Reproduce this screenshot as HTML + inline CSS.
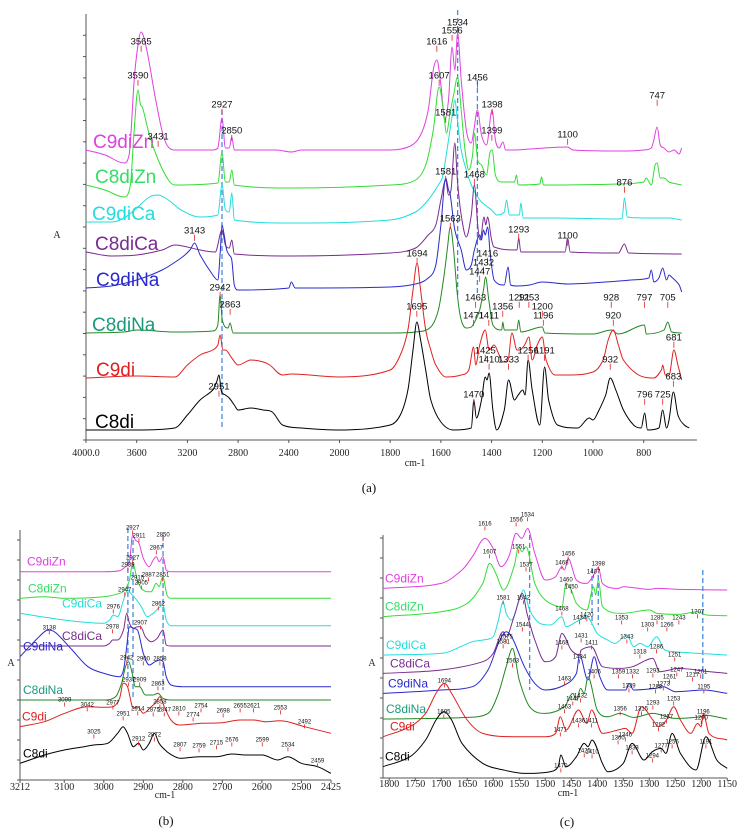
<!DOCTYPE html>
<html><head><meta charset="utf-8">
<style>
html,body{margin:0;padding:0;background:#fff;}
svg{display:block;font-family:"Liberation Sans",Arial,sans-serif;}
.ax{stroke:#555;stroke-width:1;fill:none}
.tk{font-family:"Liberation Serif",serif;font-size:10px;fill:#222}
</style></head>
<body>
<svg id="fig" width="740" height="833" viewBox="0 0 740 833" xmlns="http://www.w3.org/2000/svg"></svg>
<script>
// ---------- Series metadata ----------
const seriesNames = ["C9diZn","C8diZn","C9diCa","C8diCa","C9diNa","C8diNa","C9di","C8di"];
const lineColors = ["#e040e0","#33dd33","#22dddd","#7a2a90","#2a2acc","#228822","#e02020","#000000"];
const labelColors = ["#e040e0","#33dd66","#22dddd","#7a2a90","#2a2acc","#1a9a7a","#e02020","#000000"];

// ---------- Panel (a) data: [wavenumber, absorbance a.u.] ----------
const a_C9diZn = [[4000,290],[3850,285],[3700,277],[3660,285],[3620,360],[3590,395],[3565,408],[3520,390],[3450,340],[3380,300],[3300,290],[3000,290],[2960,292],[2927,322],[2900,292],[2870,292],[2850,303],[2830,290],[2500,290],[2380,288],[2300,290],[1800,290],[1720,294],[1680,305],[1650,330],[1630,370],[1616,380],[1600,355],[1585,320],[1570,340],[1556,393],[1545,370],[1534,407],[1520,360],[1500,310],[1480,297],[1470,310],[1456,330],[1440,305],[1420,295],[1398,330],[1385,300],[1370,292],[1355,298],[1345,290],[1300,290],[1250,291],[1100,293],[1080,290],[900,289],[800,290],[770,292],[760,300],[747,313],[735,295],[720,292],[700,288],[680,290],[660,286],[650,292]];
const a_C8diZn = [[4000,255],[3850,250],[3700,243],[3650,255],[3620,310],[3590,350],[3570,335],[3555,333],[3500,305],[3430,280],[3350,260],[3300,255],[2960,257],[2927,287],[2900,258],[2870,258],[2850,270],[2830,255],[2380,252],[1800,255],[1700,260],[1660,275],[1630,310],[1607,353],[1590,330],[1578,307],[1565,325],[1550,345],[1534,363],[1520,330],[1505,290],[1490,270],[1475,285],[1468,307],[1455,280],[1440,275],[1420,265],[1407,287],[1398,290],[1385,265],[1360,258],[1310,258],[1302,265],[1295,255],[1210,256],[1203,263],[1195,255],[900,256],[800,258],[790,262],[770,255],[755,275],[747,277],[735,262],[720,262],[700,258],[650,255]];
const a_C9diCa = [[4000,218],[3800,218],[3700,222],[3600,232],[3500,243],[3431,245],[3350,240],[3250,230],[3100,223],[2960,225],[2927,255],[2900,230],[2870,228],[2850,247],[2830,220],[2380,217],[1800,220],[1700,228],[1650,240],[1610,255],[1595,262],[1585,275],[1570,300],[1555,325],[1545,340],[1535,320],[1520,290],[1500,270],[1480,255],[1460,245],[1440,238],[1400,230],[1380,225],[1350,228],[1341,240],[1330,225],[1290,225],[1285,237],[1275,222],[1150,222],[900,221],[885,222],[876,242],[865,223],[800,222],[700,222],[650,220]];
const a_C8diCa = [[4000,188],[3800,184],[3600,185],[3400,190],[3300,195],[3100,190],[2980,188],[2927,210],[2900,195],[2870,192],[2850,200],[2830,186],[2380,184],[1800,187],[1700,192],[1650,205],[1620,215],[1600,240],[1581,260],[1570,245],[1560,250],[1545,297],[1535,260],[1520,225],[1500,203],[1480,225],[1468,255],[1455,215],[1445,200],[1430,223],[1423,215],[1416,223],[1400,200],[1390,193],[1300,190],[1293,202],[1285,188],[1110,188],[1100,202],[1090,188],[900,187],[876,196],[860,187],[650,186]];
const a_C9diNa = [[4000,152],[3800,154],[3600,160],[3400,170],[3250,182],[3180,190],[3143,197],[3100,185],[3000,165],[2960,160],[2940,190],[2927,215],[2910,205],[2890,190],[2870,185],[2850,180],[2830,155],[2800,150],[2400,152],[2380,158],[2350,152],[1800,153],[1700,156],[1650,162],[1620,175],[1600,215],[1581,262],[1570,250],[1563,245],[1545,210],[1520,190],[1500,170],[1480,175],[1468,190],[1447,205],[1440,200],[1432,210],[1425,205],[1416,213],[1405,185],[1390,160],[1350,155],[1335,173],[1325,155],[1300,154],[1250,155],[1200,158],[1100,156],[950,158],[850,160],[780,162],[770,170],[760,158],[740,162],[725,172],[710,160],[700,165],[690,163],[660,155],[650,148]];
const a_C8diNa = [[4000,107],[3700,108],[3600,110],[3300,108],[3000,109],[2960,115],[2942,145],[2925,120],[2880,112],[2863,117],[2840,107],[1800,107],[1700,108],[1640,113],[1610,130],[1590,160],[1575,190],[1563,213],[1550,190],[1535,145],[1520,120],[1500,112],[1480,113],[1463,120],[1447,130],[1432,150],[1424,163],[1411,140],[1395,115],[1360,110],[1356,118],[1350,110],[1300,110],[1293,120],[1285,108],[1200,113],[1190,107],[1000,106],[928,110],[900,106],[797,115],[790,106],[720,110],[705,118],[690,108],[650,107]];
const a_C9di = [[4000,62],[3600,64],[3300,63],[3200,75],[3100,85],[3000,90],[2960,95],[2942,105],[2920,90],[2900,90],[2850,82],[2800,75],[2700,80],[2600,78],[2550,75],[2450,65],[2380,66],[2000,63],[1800,70],[1760,85],[1730,110],[1710,150],[1694,177],[1680,150],[1660,110],[1640,90],[1620,75],[1580,63],[1520,65],[1490,70],[1471,93],[1463,75],[1447,95],[1425,110],[1410,90],[1390,95],[1370,85],[1356,78],[1335,80],[1320,107],[1300,90],[1290,90],[1270,95],[1253,103],[1240,80],[1220,95],[1200,103],[1185,80],[1150,65],[1100,65],[1000,68],[960,80],[940,100],[920,110],[900,95],[880,80],[820,65],[760,62],[730,70],[725,75],[715,65],[700,65],[681,90],[665,75],[650,60]];
const a_C8di = [[4000,10],[3600,10],[3300,12],[3200,25],[3100,40],[3000,50],[2970,58],[2951,65],[2930,48],[2900,45],[2870,42],[2830,35],[2800,30],[2700,32],[2600,30],[2530,28],[2450,15],[2300,12],[2000,10],[1800,15],[1760,25],[1730,50],[1710,90],[1695,118],[1680,100],[1660,70],[1640,40],[1600,18],[1550,10],[1480,12],[1470,40],[1460,22],[1440,40],[1425,63],[1418,60],[1410,67],[1395,30],[1380,10],[1350,30],[1333,60],[1310,40],[1295,45],[1277,50],[1268,45],[1256,80],[1240,50],[1210,15],[1191,73],[1175,40],[1140,15],[1060,12],[1015,22],[1000,20],[980,28],[950,45],[932,62],[910,50],[880,30],[840,15],[810,12],[796,27],[785,10],[740,12],[725,30],[710,12],[700,20],[683,48],[665,25],[640,15],[620,12]];
const a_ticks = [4000,3600,3200,2800,2400,2000,1800,1600,1400,1200,1000,800];
const a_peaks = [[3565,398],[3590,364],[2927,335],[2850,309],[3431,303],[3143,209],[2942,152],[2863,135],[2951,53],[1534,417],[1556,409],[1616,398],[1607,364],[1456,362],[1398,335],[1581,327],[1399,309],[1100,305],[747,344],[1581,268],[1468,265],[876,257],[1563,221],[1293,210],[1100,204],[1694,186],[1416,186],[1432,177],[1447,168],[1463,142],[1291,142],[1253,142],[928,142],[797,142],[705,142],[1695,133],[1356,133],[1200,133],[1471,124],[1411,124],[1196,124],[920,124],[681,102],[1425,89],[1256,89],[1191,89],[1410,80],[1333,80],[932,80],[683,63],[1470,45],[796,45],[725,45]];

// ---------- Panel (b) data ----------
const b_C9diZn = [[3212,625],[3000,625],[2960,628],[2945,640],[2935,655],[2927,735],[2920,720],[2911,710],[2900,665],[2885,640],[2875,660],[2867,670],[2860,655],[2850,670],[2842,630],[2830,625],[2425,625]];
const b_C8diZn = [[3212,545],[3150,550],[3100,545],[3000,550],[2960,560],[2947,570],[2935,600],[2927,650],[2915,600],[2905,575],[2890,565],[2880,565],[2867,590],[2860,580],[2851,610],[2840,555],[2830,545],[2425,545]];
const b_C9diCa = [[3212,500],[3100,480],[3000,470],[2985,480],[2976,495],[2965,490],[2950,540],[2940,570],[2932,560],[2920,545],[2905,520],[2890,490],[2875,500],[2862,515],[2850,525],[2842,480],[2830,463],[2425,463]];
const b_C8diCa = [[3212,402],[3000,402],[2985,410],[2978,420],[2965,420],[2950,450],[2942,500],[2935,470],[2925,455],[2915,460],[2907,460],[2895,430],[2880,415],[2865,425],[2850,450],[2842,405],[2830,402],[2425,402]];
const b_C9diNa = [[3212,370],[3180,410],[3150,445],[3138,450],[3120,440],[3080,390],[3040,340],[3000,320],[2960,310],[2950,330],[2942,400],[2935,460],[2925,455],[2915,450],[2900,380],[2885,345],[2870,355],[2858,360],[2850,355],[2842,310],[2830,285],[2800,280],[2425,280]];
const b_C8diNa = [[3212,240],[3000,240],[2970,250],[2955,290],[2945,340],[2937,355],[2930,330],[2920,280],[2909,280],[2895,255],[2875,255],[2863,260],[2850,245],[2830,240],[2425,240]];
const b_C9di = [[3212,160],[3150,175],[3099,200],[3042,220],[3000,218],[2977,220],[2960,245],[2951,290],[2940,280],[2925,215],[2914,220],[2900,200],[2880,220],[2870,230],[2858,250],[2847,220],[2830,180],[2810,165],[2774,168],[2754,170],[2700,172],[2655,180],[2621,180],[2590,175],[2553,178],[2492,160],[2425,140]];
const b_C8di = [[3212,50],[3150,75],[3100,90],[3050,100],[3025,105],[2990,110],[2965,140],[2951,160],[2940,140],[2925,100],[2912,110],[2900,90],[2885,110],[2872,140],[2860,110],[2840,85],[2820,70],[2807,65],[2759,70],[2715,70],[2676,78],[2640,75],[2599,75],[2560,60],[2534,70],[2500,50],[2459,40],[2425,20]];
const b_ticks = [3212,3100,3000,2900,2800,2700,2600,2500,2425];
const b_peaks = [[2927,756],[2911,732],[2850,735],[2867,696],[2939,645],[2927,666],[2887,615],[2851,615],[2915,606],[2905,591],[2947,570],[2976,519],[2862,528],[3138,456],[2978,459],[2907,471],[2942,366],[2900,363],[2858,363],[2937,300],[2909,300],[2863,288],[3099,240],[3042,225],[2977,231],[2914,213],[2875,210],[2858,234],[2847,210],[2810,213],[2774,195],[2754,222],[2698,207],[2655,222],[2621,222],[2553,216],[2492,174],[2951,198],[3025,144],[2912,123],[2872,135],[2807,105],[2759,102],[2715,111],[2676,120],[2599,120],[2534,105],[2459,57]];

// ---------- Panel (c) data ----------
const c_C9diZn = [[1812,568],[1700,583],[1660,623],[1640,663],[1616,718],[1600,688],[1585,633],[1570,663],[1556,733],[1545,718],[1534,748],[1520,673],[1500,593],[1480,603],[1468,633],[1463,623],[1456,658],[1440,593],[1420,583],[1407,608],[1398,631],[1390,583],[1360,568],[1350,573],[1300,565],[1285,568],[1243,565],[1150,563]];
const c_C8diZn = [[1812,483],[1700,498],[1650,523],[1620,583],[1607,643],[1595,613],[1580,563],[1560,633],[1551,693],[1545,678],[1537,693],[1520,583],[1500,533],[1468,513],[1460,583],[1450,563],[1440,523],[1420,503],[1407,573],[1403,548],[1398,593],[1390,513],[1353,493],[1300,503],[1285,493],[1243,490],[1207,498],[1190,488],[1150,486]];
const c_C9diCa = [[1812,368],[1700,373],[1640,408],[1620,413],[1600,423],[1590,473],[1581,528],[1575,493],[1565,473],[1550,533],[1542,563],[1530,503],[1510,463],[1490,458],[1468,483],[1460,453],[1440,468],[1434,473],[1420,483],[1400,433],[1380,413],[1366,403],[1343,428],[1330,393],[1318,403],[1303,393],[1286,423],[1270,383],[1251,378],[1150,368]];
const c_C8diCa = [[1812,313],[1700,323],[1620,348],[1600,373],[1581,438],[1575,423],[1560,483],[1544,553],[1535,493],[1520,413],[1500,348],[1480,363],[1468,433],[1450,383],[1434,368],[1431,383],[1411,393],[1390,333],[1359,328],[1332,333],[1293,358],[1280,318],[1261,323],[1247,328],[1217,325],[1201,321],[1150,313]];
const c_C9diNa = [[1812,253],[1700,263],[1640,273],[1610,323],[1590,403],[1575,438],[1563,418],[1540,333],[1520,283],[1500,263],[1463,278],[1440,313],[1434,368],[1418,293],[1406,363],[1395,303],[1380,263],[1345,263],[1339,283],[1330,263],[1288,268],[1273,273],[1250,258],[1195,263],[1150,253]];
const c_C8diNa = [[1812,176],[1650,181],[1610,193],[1590,253],[1575,333],[1563,388],[1550,293],[1530,213],[1500,193],[1463,213],[1447,253],[1440,233],[1432,268],[1425,253],[1418,303],[1400,203],[1380,183],[1356,193],[1330,181],[1293,193],[1250,178],[1200,183],[1196,188],[1150,176]];
const c_C9di = [[1812,123],[1760,153],[1730,193],[1710,253],[1694,283],[1680,253],[1650,173],[1620,133],[1560,123],[1500,123],[1480,133],[1471,183],[1460,143],[1436,203],[1420,163],[1411,203],[1390,133],[1360,143],[1346,148],[1333,133],[1315,213],[1293,173],[1282,153],[1267,173],[1253,213],[1240,173],[1220,133],[1207,163],[1200,153],[1196,193],[1185,133],[1150,113]];
const c_C8di = [[1812,33],[1760,63],[1730,113],[1710,173],[1695,198],[1680,173],[1660,103],[1620,43],[1580,23],[1540,13],[1490,18],[1475,33],[1470,68],[1460,33],[1440,63],[1425,103],[1418,93],[1410,113],[1390,43],[1380,18],[1350,43],[1333,103],[1310,53],[1294,78],[1277,88],[1268,73],[1256,133],[1240,73],[1210,23],[1191,123],[1170,53],[1150,28]];
const c_ticks = [1800,1750,1700,1650,1600,1550,1500,1450,1400,1350,1300,1250,1200,1150];
const c_peaks = [[1616,761],[1556,773],[1534,788],[1607,677],[1551,692],[1468,644],[1456,671],[1537,638],[1407,617],[1398,641],[1542,539],[1460,593],[1450,572],[1581,539],[1468,506],[1353,479],[1285,479],[1243,479],[1207,497],[1544,458],[1434,479],[1420,488],[1266,458],[1303,458],[1575,422],[1581,407],[1468,404],[1431,425],[1411,404],[1343,422],[1318,377],[1286,392],[1251,368],[1434,362],[1563,350],[1463,296],[1406,317],[1359,317],[1332,317],[1293,320],[1261,302],[1247,323],[1217,308],[1201,317],[1339,275],[1288,272],[1273,281],[1195,272],[1694,290],[1447,236],[1432,245],[1463,212],[1356,206],[1315,206],[1293,224],[1253,236],[1196,197],[1695,197],[1436,170],[1411,170],[1267,182],[1282,158],[1200,179],[1471,143],[1360,119],[1346,128],[1256,107],[1191,107],[1425,80],[1410,77],[1333,89],[1294,65],[1277,95],[1470,35]];

// ---------- helpers ----------
const NS = "http://www.w3.org/2000/svg";
const svg = document.getElementById("fig");
function mk(tag, attrs, parent){
  const e = document.createElementNS(NS, tag);
  for (const k in attrs) e.setAttribute(k, attrs[k]);
  (parent||svg).appendChild(e);
  return e;
}
// monotone-in-x cubic smoothing (no loops)
function smoothPath(pts){
  const n = pts.length;
  const m = [];
  for (let i=0;i<n;i++){
    const a = pts[Math.max(0,i-1)], b = pts[Math.min(n-1,i+1)];
    let s = (b[0]-a[0]) !== 0 ? (b[1]-a[1])/(b[0]-a[0]) : 0;
    if (i>0 && i<n-1){
      const s1 = (pts[i][1]-pts[i-1][1])/((pts[i][0]-pts[i-1][0])||1e-6);
      const s2 = (pts[i+1][1]-pts[i][1])/((pts[i+1][0]-pts[i][0])||1e-6);
      if (s1*s2 <= 0) s = 0;
      else { const lim = 3*Math.min(Math.abs(s1),Math.abs(s2)); if (Math.abs(s)>lim) s = Math.sign(s)*lim; }
    }
    m.push(s);
  }
  let d = "M" + pts[0][0].toFixed(1) + "," + pts[0][1].toFixed(1);
  for (let i=0;i<n-1;i++){
    const p1 = pts[i], p2 = pts[i+1];
    const dx = (p2[0]-p1[0])/3;
    d += " C"+(p1[0]+dx).toFixed(1)+","+(p1[1]+m[i]*dx).toFixed(1)+" "+(p2[0]-dx).toFixed(1)+","+(p2[1]-m[i+1]*dx).toFixed(1)+" "+p2[0].toFixed(1)+","+p2[1].toFixed(1);
  }
  return d;
}

// ---------- axis functions ----------
function xA(w){ return w >= 2000 ? 86 + (4000-w)*0.12675 : 339.5 + (2000-w)*0.2535; }
function yA(v){ return 440 - v; }
function xB(w){ return 20 + (3212-w)*0.3952; }
function yB(v){ return 780 - v/3; }
function xC(w){ return 383 + (1812-w)*0.52; }
function yC(v){ return 777.7 - v/3; }

function drawPanel(cfg){
  const g = mk("g", {});
  
  
  const xa = mk("line", {x1:cfg.x0, y1:cfg.yb, x2:cfg.x1, y2:cfg.yb, class:"ax"}, g);
  
  
  const ya = mk("line", {x1:cfg.x0, y1:cfg.yt, x2:cfg.x0, y2:cfg.yb, class:"ax"}, g);
  
  
  for (let y = cfg.yb; y >= cfg.yt; y -= cfg.ystep){
    mk("line", {x1:cfg.x0-3, y1:y, x2:cfg.x0, y2:y, class:"ax"}, g);
  }
  cfg.ticks.forEach((t,i)=>{
    const x = cfg.xs(t);
    mk("line", {x1:x, y1:cfg.yb, x2:x, y2:cfg.yb+3, class:"ax"}, g);
    const lbl = (cfg.name==="panel-a" && i===0) ? "4000.0" : String(t);
    const tx = mk("text", {x:x, y:cfg.yb+cfg.tickDy, "text-anchor":"middle", class:"tk", "font-size":cfg.tickFs}, g);
    tx.textContent = lbl;
    
    
  });
  const xt = mk("text", {x:cfg.xtX, y:cfg.xtY, "text-anchor":"middle", class:"tk", "font-size":cfg.tickFs+1}, g);
  xt.textContent = "cm-1";
  
  
  const yt = mk("text", {x:cfg.ytX, y:cfg.ytY, "text-anchor":"middle", class:"tk", "font-size":cfg.tickFs+1}, g);
  yt.textContent = "A";
  
  
  cfg.dashes.forEach(dl=>{
    const l = mk("line", {x1:cfg.xs(dl[0]), x2:cfg.xs(dl[0]), y1:cfg.ys(dl[1]), y2:cfg.ys(dl[2]), stroke:"#4a8ad8", "stroke-width":1.3, "stroke-dasharray":"5,3"}, g);
    
    
  });
  cfg.series.forEach((data,i)=>{
    const pts = data.map(p=>[cfg.xs(p[0]), cfg.ys(p[1])]);
    const p = mk("path", {d:smoothPath(pts), fill:"none", stroke:lineColors[i], "stroke-width":1, "stroke-linejoin":"round"}, g);
    
    
    const lb = mk("text", {x:cfg.labX[i], y:cfg.ys(data[0][1]) - cfg.labDy, fill:labelColors[i], "font-size":cfg.labFs}, g);
    lb.textContent = seriesNames[i];
    
    
  });
  cfg.peaks.forEach(pk=>{
    const x = cfg.xs(pk[0]), y = cfg.ys(pk[1]);
    const ln = mk("line", {x1:x, y1:y+cfg.pkFs*0.4, x2:x, y2:y+cfg.pkFs*0.4+cfg.lead, stroke:"#e02020", "stroke-width":0.8}, g);
    
    
    const t = mk("text", {x:x, y:y, "text-anchor":"middle", "dominant-baseline":"middle", fill:"#111", "font-size":cfg.pkFs}, g);
    t.textContent = String(pk[0]);
    
    
  });
}

drawPanel({name:"panel-a", xs:xA, ys:yA, x0:86, x1:697, yt:14, yb:440, ystep:21.3,
  ticks:a_ticks, tickDy:16, tickFs:10, xtX:415, xtY:466, ytX:57, ytY:238,
  dashes:[[2927,330,10],[1534,430,145],[1456,360,145]],
  series:[a_C9diZn,a_C8diZn,a_C9diCa,a_C8diCa,a_C9diNa,a_C8diNa,a_C9di,a_C8di],
  labX:[93,95,92,95,96,92,96,95], labDy:2, labFs:19,
  peaks:a_peaks, pkFs:9.5, lead:6});

drawPanel({name:"panel-b", xs:xB, ys:yB, x0:20, x1:331, yt:530, yb:780, ystep:20,
  ticks:b_ticks, tickDy:10, tickFs:7, xtX:165, xtY:798, ytX:11, ytY:666,
  dashes:[[2939,756,300],[2926,720,240],[2850,735,270]],
  series:[b_C9diZn,b_C8diZn,b_C9diCa,b_C8diCa,b_C9diNa,b_C8diNa,b_C9di,b_C8di],
  labX:[27,28,62,62,23,23,22,23], labDy:6, labFs:12,
  peaks:b_peaks, pkFs:6, lead:4});

drawPanel({name:"panel-c", xs:xC, ys:yC, x0:383, x1:727, yt:535, yb:778, ystep:20,
  ticks:c_ticks, tickDy:9, tickFs:7, xtX:568, xtY:796, ytX:372, ytY:666,
  dashes:[[1530,728,263],[1410,629,458],[1398,608,458],[1197,623,293]],
  series:[c_C9diZn,c_C8diZn,c_C9diCa,c_C8diCa,c_C9diNa,c_C8diNa,c_C9di,c_C8di],
  labX:[385,385,386,390,388,386,390,385], labDy:6, labFs:12,
  peaks:c_peaks, pkFs:6, lead:4});

[["(a)",369,492],["(b)",166,825],["(c)",567,826]].forEach(c=>{
  const t = mk("text", {x:c[1], y:c[2], "text-anchor":"middle", "font-family":"Liberation Serif, serif", "font-size":13, fill:"#111"});
  t.textContent = c[0];
  
  
});
</script>
</body>
</html>
